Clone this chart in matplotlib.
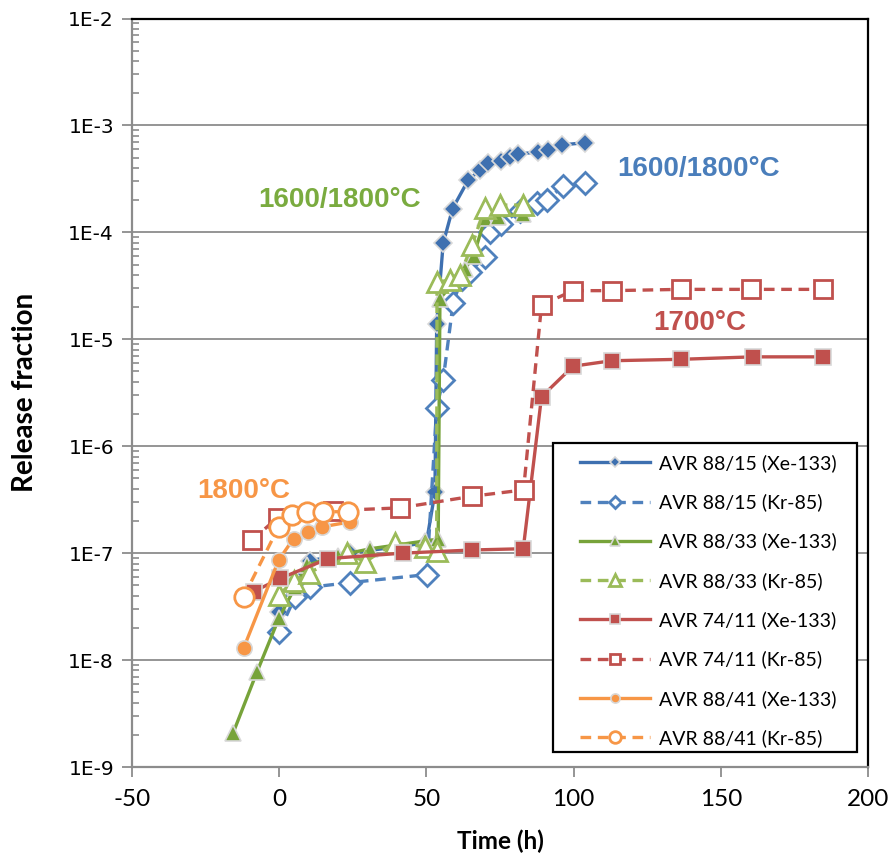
import matplotlib
matplotlib.use("Agg")
import matplotlib.pyplot as plt
from matplotlib.patches import Rectangle
from matplotlib.ticker import LogLocator, FixedLocator, FixedFormatter, NullFormatter

# ---------------- data ----------------
t_8815_xe = [0, 5.4, 10.5, 24, 50, 52.9, 53.5, 55.7, 58.9, 64.2, 68.2, 71.0, 75.5, 78.4, 81.2, 88.0, 91.4, 95.9, 103.8]
v_8815_xe = [2.8e-8, 5.5e-8, 8.5e-8, 1.0e-7, 1.25e-7, 3.7e-7, 1.4e-5, 7.9e-5, 1.67e-4, 3.08e-4, 3.83e-4, 4.42e-4,
             4.68e-4, 5.1e-4, 5.37e-4, 5.68e-4, 5.89e-4, 6.56e-4, 6.9e-4]

t_8815_kr = [0, 5.4, 10.5, 24, 50.1, 53.5, 55.7, 59.1, 62, 64.8, 69.9, 71.6, 75.5, 81.8, 87.4, 90.8, 96.4, 103.8]
v_8815_kr = [1.85e-8, 3.9e-8, 4.8e-8, 5.3e-8, 6.3e-8, 2.3e-6, 4.2e-6, 2.2e-5, 3.7e-5, 4.3e-5, 5.9e-5, 1.0e-4,
             1.2e-4, 1.6e-4, 1.9e-4, 2.0e-4, 2.7e-4, 2.9e-4]

t_8833_xe = [-15.6, -7.5, 0, 5.4, 9.5, 20, 31, 49.5, 54, 54.6, 63, 66, 69.9, 74.3, 82.8]
v_8833_xe = [2.1e-9, 7.8e-9, 2.5e-8, 4.8e-8, 7.7e-8, 9.5e-8, 1.1e-7, 1.3e-7, 1.35e-7, 2.4e-5, 4.5e-5, 6.0e-5,
             1.35e-4, 1.4e-4, 1.5e-4]

t_8833_kr = [0, 5, 10, 23, 29.2, 39.3, 49.5, 53.5, 53.6, 58, 61.4, 65.5, 69.9, 75, 82.8]
v_8833_kr = [4.1e-8, 5.5e-8, 6.5e-8, 1.0e-7, 8.3e-8, 1.25e-7, 1.15e-7, 1.05e-7, 3.4e-5, 3.6e-5, 4.0e-5, 7.6e-5,
             1.7e-4, 1.8e-4, 1.8e-4]

t_7411_xe = [-8.7, 0.3, 16.7, 42, 65.4, 82.9, 89.1, 99.8, 112.9, 136.6, 160.9, 184.6]
v_7411_xe = [4.36e-8, 5.8e-8, 8.9e-8, 1.0e-7, 1.07e-7, 1.1e-7, 2.9e-6, 5.6e-6, 6.3e-6, 6.5e-6, 6.85e-6, 6.85e-6]

t_7411_kr = [-9.3, -0.5, 18.4, 41, 65.4, 83, 89.1, 99.8, 112.9, 136.6, 160.3, 184.6]
v_7411_kr = [1.32e-7, 2.15e-7, 2.5e-7, 2.65e-7, 3.4e-7, 3.9e-7, 2.09e-5, 2.85e-5, 2.85e-5, 2.93e-5, 2.93e-5, 2.93e-5]

t_8841_xe = [-12.1, -0.2, 4.9, 9.7, 14.5, 24.1]
v_8841_xe = [1.29e-8, 8.6e-8, 1.37e-7, 1.58e-7, 1.76e-7, 1.96e-7]

t_8841_kr = [-12.1, -0.2, 4.3, 9.4, 15, 23.5]
v_8841_kr = [3.9e-8, 1.76e-7, 2.26e-7, 2.44e-7, 2.44e-7, 2.44e-7]

labels = ["AVR 88/15 (Xe-133)", "AVR 88/15 (Kr-85)", "AVR 88/33 (Xe-133)", "AVR 88/33 (Kr-85)",
          "AVR 74/11 (Xe-133)", "AVR 74/11 (Kr-85)", "AVR 88/41 (Xe-133)", "AVR 88/41 (Kr-85)"]

x_ticks = [-50, 0, 50, 100, 150, 200]
y_ticks = [1e-9, 1e-8, 1e-7, 1e-6, 1e-5, 1e-4, 1e-3, 1e-2]
y_ticklabels = ["1E-9", "1E-8", "1E-7", "1E-6", "1E-5", "1E-4", "1E-3", "1E-2"]

annotations = [("1600/1800°C", 20.5, 2.0e-4, "#7AAB3F"),
               ("1600/1800°C", 142.5, 3.9e-4, "#4A7EBB"),
               ("1700°C", 143, 1.42e-5, "#C0504D"),
               ("1800°C", -12, 3.8e-7, "#F79646")]

# ---------------- styles ----------------
BLUE_D = "#3E70B0"
BLUE = "#4F81BD"
GREEN_D = "#77A33A"
GREEN = "#9BBB59"
RED = "#C0504D"
ORANGE = "#F79646"
EDGE = "#D8D8D8"
DASH = (0, (3.2, 2.0))

fig = plt.figure(figsize=(8.91, 8.57), dpi=100)
ax = fig.add_axes([132 / 891, 1 - 767 / 857, 736 / 891, 748.5 / 857])

series = [
    (t_8815_xe, v_8815_xe, dict(color=BLUE_D, ls="-", marker="D", ms=9, mfc=BLUE_D, mec=EDGE, mew=1.2)),
    (t_8815_kr, v_8815_kr, dict(color=BLUE, ls=DASH, marker="D", ms=11, mfc="white", mec=BLUE, mew=2.0)),
    (t_8833_xe, v_8833_xe, dict(color=GREEN_D, ls="-", marker="^", ms=12, mfc=GREEN_D, mec=EDGE, mew=1.2)),
    (t_8833_kr, v_8833_kr, dict(color=GREEN, ls=DASH, marker="^", ms=14, mfc="white", mec=GREEN, mew=2.0)),
    (t_7411_xe, v_7411_xe, dict(color=RED, ls="-", marker="s", ms=11, mfc=RED, mec=EDGE, mew=1.2)),
    (t_7411_kr, v_7411_kr, dict(color=RED, ls=DASH, marker="s", ms=13, mfc="white", mec=RED, mew=2.0)),
    (t_8841_xe, v_8841_xe, dict(color=ORANGE, ls="-", marker="o", ms=11, mfc=ORANGE, mec=EDGE, mew=1.2)),
    (t_8841_kr, v_8841_kr, dict(color=ORANGE, ls=DASH, marker="o", ms=14, mfc="white", mec=ORANGE, mew=2.0)),
]

for (t, v, st), lab in zip(series, labels):
    ax.plot(t, v, lw=2.4, label=lab, zorder=3, **st)

ax.set_yscale("log")
ax.set_xlim(-50, 200)
ax.set_ylim(1e-9, 1e-2)

ax.yaxis.set_major_locator(FixedLocator(y_ticks))
ax.yaxis.set_major_formatter(FixedFormatter(y_ticklabels))
ax.yaxis.set_minor_locator(LogLocator(base=10, subs=range(2, 10), numticks=20))
ax.yaxis.set_minor_formatter(NullFormatter())
ax.set_xticks(x_ticks)
ax.set_xticklabels([str(x) for x in x_ticks])

ax.grid(axis="y", which="major", color="#8C8C8C", lw=1.3, zorder=0)
ax.set_axisbelow(True)

GRAY = "#8C8C8C"
for s in ["left", "bottom"]:
    ax.spines[s].set_color(GRAY)
    ax.spines[s].set_linewidth(1.6)
for s in ["top", "right"]:
    ax.spines[s].set_color("black")
    ax.spines[s].set_linewidth(1.6)

ax.tick_params(axis="y", which="major", direction="out", length=7, width=1.3, color=GRAY, pad=6)
ax.tick_params(axis="y", which="minor", direction="in", length=5, width=1.2, color=GRAY)
ax.tick_params(axis="x", which="major", direction="out", length=7, width=1.3, color=GRAY, pad=9)

for lab in ax.get_yticklabels():
    lab.set_fontfamily("DejaVu Sans")
    lab.set_fontsize(14.5)
for lab in ax.get_xticklabels():
    lab.set_fontfamily("Lato")
    lab.set_fontsize(17.5)

ax.set_xlabel("Time (h)", fontsize=17.5, fontweight="bold", family="Lato", labelpad=14)
ax.set_ylabel("Release fraction", fontsize=20, fontweight="bold", family="Lato", labelpad=22)

for txt, x, y, c in annotations:
    ax.text(x, y, txt, color=c, fontsize=20, fontweight="bold", family="Liberation Sans",
            ha="center", va="center", zorder=4)

# legend frame drawn as a rectangle, contents placed inside
frame = Rectangle((0.572, 0.02), 0.413, 0.4128, transform=ax.transAxes, facecolor="white",
                  edgecolor="black", lw=1.6, zorder=5)
ax.add_patch(frame)
leg = ax.legend(loc="upper left", bbox_to_anchor=(0.6087, 0.418), prop={"family": "Lato", "size": 14},
                frameon=False, markerscale=0.6, handlelength=3.6, labelspacing=1.1, borderpad=0,
                handletextpad=0.45, borderaxespad=0)
leg.set_zorder(6)

fig.savefig("out.png", dpi=100)
